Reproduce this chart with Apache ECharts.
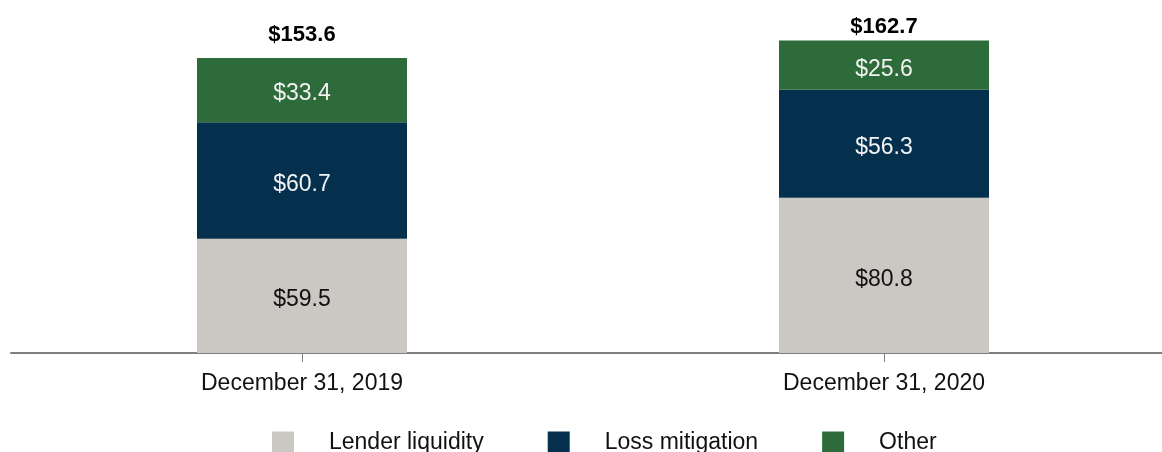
<!DOCTYPE html>
<html>
<head>
<meta charset="utf-8">
<script src="https://cdn.jsdelivr.net/npm/echarts@6/dist/echarts.min.js"></script>
<style>
    html, body { margin: 0; padding: 0; background: #fff; }
    #chart { width: 1162px; height: 452px; }
</style>
</head>
<body>
<div id="chart"></div>
<script>
var categories = ['December 31, 2019', 'December 31, 2020']
var lenderLiquidity = [59.5, 80.8]
var lossMitigation = [60.7, 56.3]
var other = [33.4, 25.6]
var totals = [153.6, 162.7]

var font = 'Liberation Sans, Arial, sans-serif'

function money(p) {
    return '$' + p.value.toFixed(1)
}

function segment(name, data, color, textColor) {
    return {
        name: name,
        type: 'bar',
        stack: 'total',
        data: data,
        barWidth: 210,
        itemStyle: { color: color },
        label: {
            show: true,
            position: 'inside',
            offset: [0, 4],
            formatter: money,
            color: textColor,
            fontSize: 23,
            fontFamily: font
        },
        emphasis: { disabled: true }
    }
}

var chart = echarts.init(document.getElementById('chart'))
chart.setOption({
    animation: false,
    grid: {
        left: 11,
        width: 1164,
        top: 7.4,
        bottom: 99,
        outerBoundsMode: 'none'
    },
    legend: {
        left: 272,
        top: 431,
        padding: 0,
        itemWidth: 22,
        itemHeight: 22,
        itemGap: 64,
        icon: 'rect',
        textStyle: {
            fontSize: 23,
            fontFamily: font,
            color: '#111',
            padding: [0, 0, 0, 30]
        },
        data: ['Lender liquidity', 'Loss mitigation', 'Other']
    },
    xAxis: {
        type: 'category',
        data: categories,
        axisLine: { lineStyle: { color: '#7f7f7f', width: 2 } },
        axisTick: {
            show: true,
            interval: 0,
            alignWithLabel: true,
            length: 9,
            lineStyle: { color: '#7f7f7f', width: 1 }
        },
        axisLabel: {
            interval: 0,
            margin: 19,
            fontSize: 23,
            fontFamily: font,
            color: '#111'
        }
    },
    yAxis: {
        type: 'value',
        min: 0,
        max: 180,
        show: false
    },
    series: [
        segment('Lender liquidity', lenderLiquidity, '#cbc8c3', '#111'),
        segment('Loss mitigation', lossMitigation, '#04304d', '#f2f2f2'),
        segment('Other', other, '#2e6b3a', '#f2f2f2'),
        {
            name: 'total',
            type: 'scatter',
            symbolSize: 0,
            silent: true,
            itemStyle: { opacity: 1 },
            data: totals.map(function (v, i) {
                return {
                    value: [i, v],
                    label: { distance: i === 0 ? 12 : 3 }
                }
            }),
            label: {
                show: true,
                position: 'top',
                formatter: function (p) { return '$' + p.value[1].toFixed(1) },
                fontSize: 22,
                fontWeight: 'bold',
                fontFamily: font,
                color: '#000'
            }
        }
    ]
})
</script>
</body>
</html>
